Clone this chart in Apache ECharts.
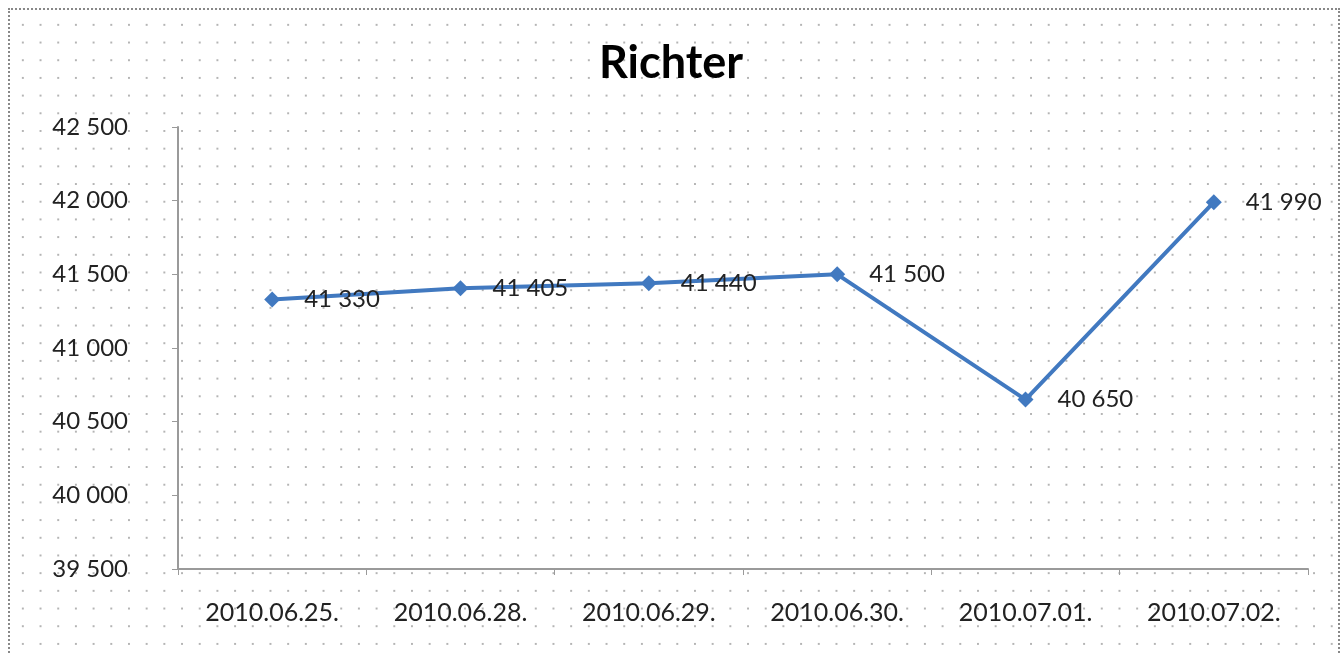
<!DOCTYPE html>
<html>
<head>
<meta charset="utf-8">
<script src="https://cdn.jsdelivr.net/npm/echarts@6/dist/echarts.min.js"></script>
<style>
  html, body { margin: 0; padding: 0; background: #fff; }
  #frame {
    position: absolute; left: 8px; top: 8px; width: 1328px; height: 660px;
    border: 2px dotted #888;
    background-color: #fff;
    background-image: radial-gradient(circle, #b4b4b4 0.9px, transparent 1.2px);
    background-size: 17.7px 17.7px;
    background-position: 4px 6px;
  }
  #chart { position: absolute; left: 0; top: 0; width: 1342px; height: 655px; }
</style>
</head>
<body>
<div id="frame"></div>
<div id="chart"></div>
<script>
const dates = ['2010.06.25.', '2010.06.28.', '2010.06.29.', '2010.06.30.', '2010.07.01.', '2010.07.02.']
const prices = [41330, 41405, 41440, 41500, 40650, 41990]

// thousands with a space, the way the sheet prints them
const fmt = v => String(v).replace(/\B(?=(\d{3})+(?!\d))/g, ' ')

const chart = echarts.init(document.getElementById('chart'))
chart.setOption({
  backgroundColor: 'transparent',
  animation: false,
  textStyle: { fontFamily: 'Lato, "Open Sans", sans-serif' },
  title: {
    text: 'Richter',
    left: 'center',
    top: 36,
    textStyle: { fontSize: 45, fontWeight: 'bold', color: '#000', fontFamily: 'Lato, sans-serif' }
  },
  grid: { left: 178, right: 34, top: 127, bottom: 86 },
  xAxis: {
    type: 'category',
    data: dates,
    boundaryGap: true,
    axisLine: { lineStyle: { color: '#9a9a9a', width: 2 } },
    axisTick: { show: true, length: 6, lineStyle: { color: '#9a9a9a' } },
    axisLabel: { color: '#222', fontSize: 25, margin: 31 }
  },
  yAxis: {
    type: 'value',
    min: 39500,
    max: 42500,
    interval: 500,
    axisLine: { show: true, lineStyle: { color: '#9a9a9a', width: 2 } },
    axisTick: { show: true, length: 6, lineStyle: { color: '#9a9a9a' } },
    splitLine: { show: false },
    axisLabel: { color: '#222', fontSize: 24, margin: 50, formatter: v => fmt(v) }
  },
  series: [{
    type: 'line',
    data: prices,
    symbol: 'diamond',
    symbolSize: 16,
    lineStyle: { color: '#4179c0', width: 4 },
    itemStyle: { color: '#4179c0' },
    label: {
      show: true,
      position: 'right',
      distance: 24,
      color: '#222',
      fontSize: 24,
      formatter: p => fmt(p.value)
    }
  }]
})
</script>
</body>
</html>
